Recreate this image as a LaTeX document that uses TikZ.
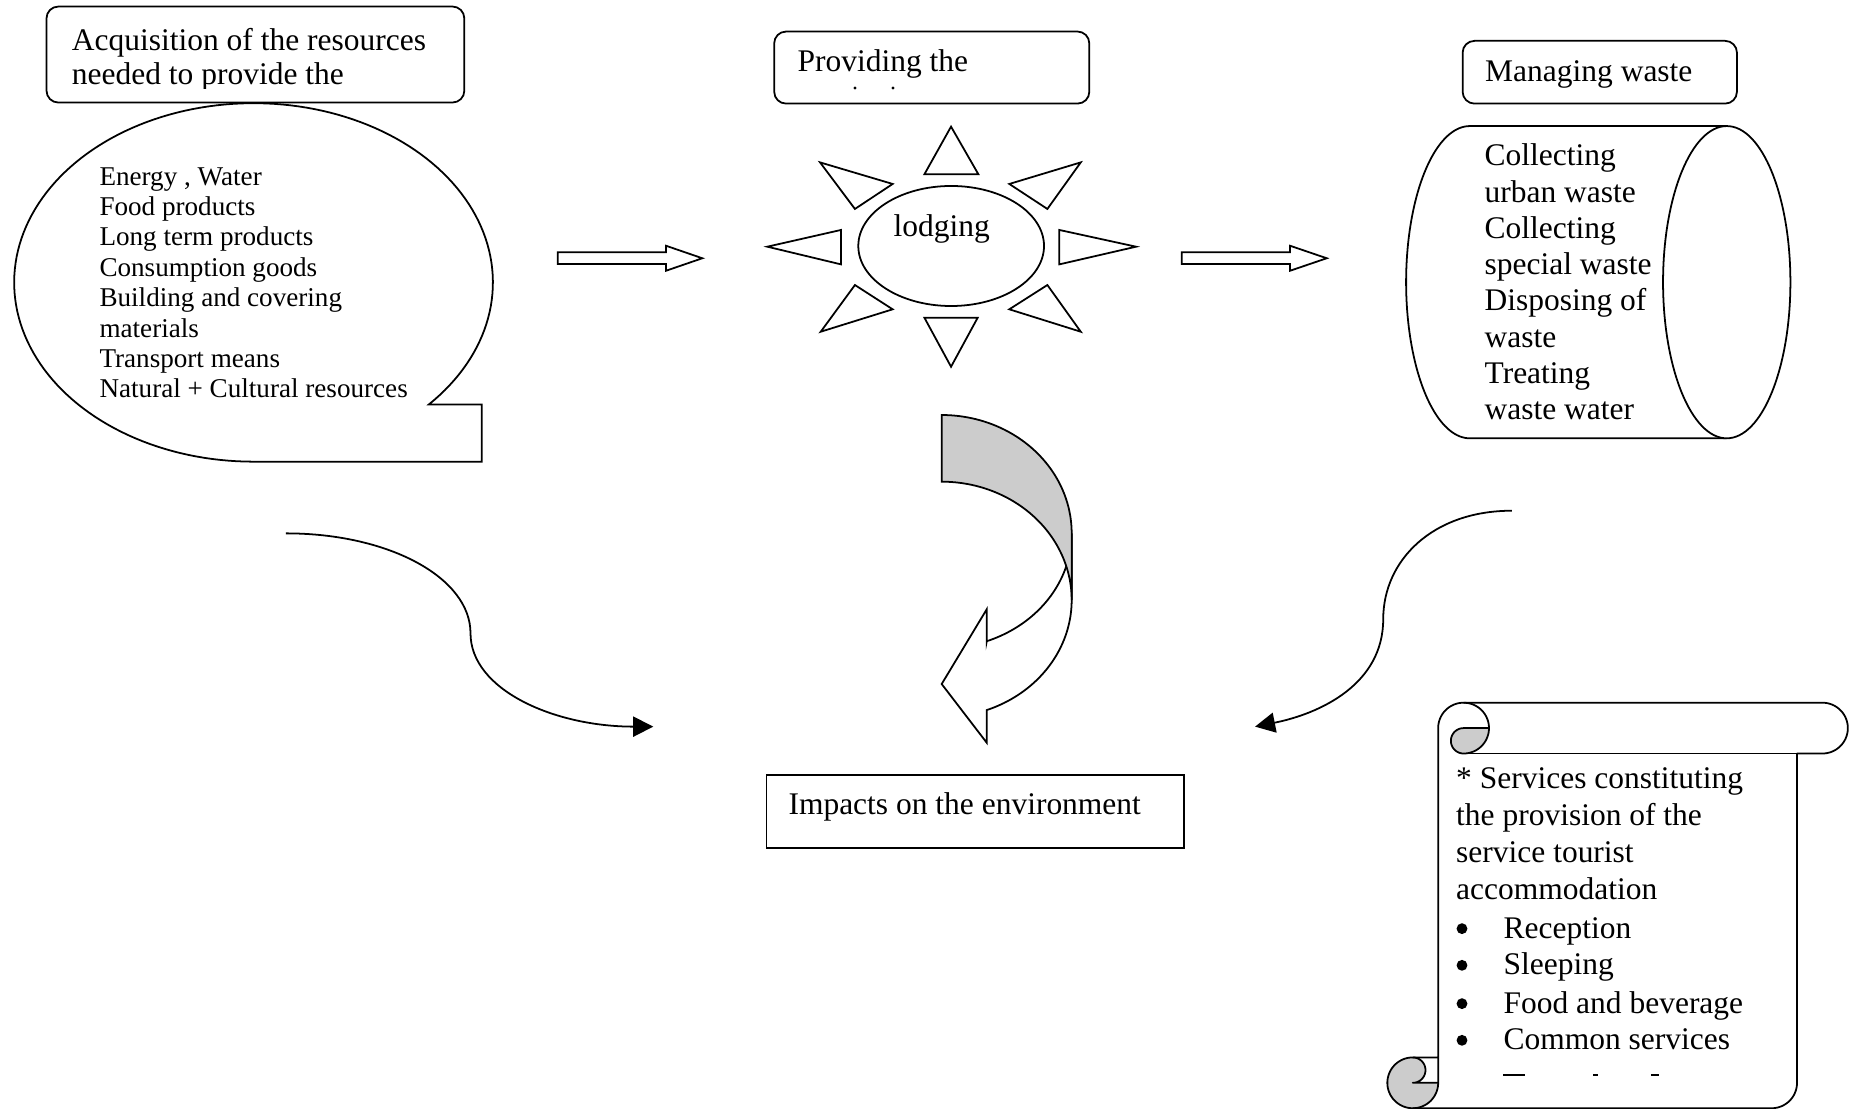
\documentclass[tikz,border=0pt]{standalone}
\usepackage{fontspec}
\setmainfont{Liberation Serif}
\usetikzlibrary{shapes.geometric,arrows.meta}
\definecolor{curlgray}{RGB}{204,204,204}
\begin{document}
\begin{tikzpicture}[x=1pt,y=-1pt,
  ln/.style={line width=1.5pt},
  hdrbox/.style={draw, ln, rounded corners=10pt, fill=white, anchor=north west, inner sep=0pt},
  plainbox/.style={draw, ln, fill=white, anchor=north west, inner sep=0pt},
  bigtxt/.style={font=\fontsize{26.7pt}{30pt}\selectfont, inner sep=0pt, anchor=base west},
  smalltxt/.style={font=\fontsize{23pt}{26pt}\selectfont, inner sep=0pt, anchor=base west},
  bulletdot/.style={circle, fill=black, inner sep=0pt, minimum size=9.2pt},
  ray/.style={draw, ln, fill=white, line join=miter},
  blockarrow/.style={draw, ln, fill=white, line join=miter},
  flow/.style={ln, -{Triangle[length=17pt,width=17pt]}},
]
\useasboundingbox (0,0) rectangle (1568,940);
\fill[white] (0,0) rectangle (1568,940);

% ---------------- left column ----------------
\node[hdrbox, minimum width=354.3pt, minimum height=81.4pt] (acqbox) at (38.7,4.8) {};
\begin{scope}
  \clip (38.7,4.8) rectangle (393,75);
  \node[bigtxt] (acq1) at (60.8,42.4) {Acquisition of the resources};
  \node[bigtxt] (acq2) at (60.8,72) {needed to provide the};
\end{scope}

\draw[ln, fill=white, line join=miter] plot[domain=90:402.9, samples=160] ({215+203*cos(\x)},{239.5+152*sin(\x)})
   -- (408.5,343) -- (408.5,391.5) -- cycle;
\foreach \t [count=\i] in {{Energy , Water},{Food products},{Long term products},{Consumption goods},{Building and covering},{materials},{Transport means},{Natural + Cultural resources}}
  \node[smalltxt] (res\i) at (84.2,{156.9+(\i-1)*25.8}) {\t};

% ---------------- middle column ----------------
\node[hdrbox, minimum width=267.2pt, minimum height=61.1pt] (provbox) at (655.8,26) {};
\node[bigtxt] (prov) at (676.2,60.8) {Providing the};
\fill (725,74.6) circle[radius=1.4pt];
\fill (757.3,74.6) circle[radius=1.4pt];

\node[draw, ln, ellipse, minimum width=157.5pt, minimum height=101.8pt, inner sep=0pt] (lodge) at (806.6,208.6) {};
\node[bigtxt] (lodgetxt) at (757.6,200.5) {lodging};

\draw[ray] (806.5,107.4) -- (783.9,147.8) -- (829.7,147.8) -- cycle;
\draw[ray] (806.5,311) -- (783.9,269.4) -- (829.1,269.4) -- cycle;
\draw[ray] (650.7,209.2) -- (713.2,195) -- (713.2,224.2) -- cycle;
\draw[ray] (963.4,209.2) -- (898.3,195) -- (898.3,224.2) -- cycle;
\draw[ray] (695.4,137.7) -- (757,156) -- (725,177.2) -- cycle;
\draw[ray] (916.5,137.7) -- (855.9,156) -- (888.2,177.2) -- cycle;
\draw[ray] (725,241.7) -- (757,262.3) -- (696,281.3) -- cycle;
\draw[ray] (888.2,241.7) -- (855.9,262.3) -- (916.5,281.3) -- cycle;

% block arrows
\draw[blockarrow] (473,214) -- (564.8,214) -- (564.8,208.4) -- (595.6,219) -- (564.8,229.6) -- (564.8,223.9) -- (473,223.9) -- cycle;
\draw[blockarrow] (1002.1,214) -- (1094,214) -- (1094,208.4) -- (1125.1,219) -- (1094,229.6) -- (1094,223.9) -- (1002.1,223.9) -- cycle;

% curved block arrow
\begin{scope}[shift={(746.27,339.21)}, scale=0.28268]
  \draw[ln, fill=white, line join=miter] plot[domain=0:69.7, samples=60] ({185+390*cos(\x)},{600+352*sin(\x)})
     -- (320,1028) -- (185,852) -- (320,628) -- (320,725)
     -- plot[domain=69.7:0, samples=60] ({185+390*cos(\x)},{400+345*sin(\x)}) -- cycle;
  \draw[ln, fill=curlgray, line join=miter] plot[domain=270:360, samples=60] ({185+390*cos(\x)},{400+355*sin(\x)})
     -- (575,600)
     -- plot[domain=360:270, samples=60] ({185+390*cos(\x)},{600+355*sin(\x)}) -- cycle;
\end{scope}

\node[plainbox, minimum width=354.2pt, minimum height=62.1pt] (imp) at (649.3,656.4) {};
\node[bigtxt] (imptxt) at (668.5,691.1) {Impacts on the environment};

% ---------------- right column ----------------
\node[hdrbox, minimum width=232.6pt, minimum height=53.2pt] (mgwbox) at (1239.6,33.9) {};
\node[bigtxt] (mgw) at (1259.3,69.3) {Managing waste};

\fill[white] (1464.3,106.9) -- (1246.4,106.9)
   -- plot[domain=270:90, samples=80] ({1246.4+54*cos(\x)},{239.3+132.4*sin(\x)}) -- (1464.3,371.7) -- cycle;
\draw[ln] (1464.3,106.9) -- (1246.4,106.9)
   -- plot[domain=270:90, samples=80] ({1246.4+54*cos(\x)},{239.3+132.4*sin(\x)}) -- (1464.3,371.7);
\node[draw, ln, ellipse, minimum width=108pt, minimum height=264.8pt, inner sep=0pt, fill=white] (cylend) at (1464.3,239.3) {};
\foreach \t [count=\i] in {Collecting,urban waste,Collecting,special waste,Disposing of,waste,Treating,waste water}
  \node[bigtxt] (wst\i) at (1258.8,{140.5+(\i-1)*30.8}) {\t};

% scroll
\fill[white] (1219.6,896.7) -- (1219.6,617.45)
   -- plot[domain=180:270, samples=30] ({1241.15+21.55*cos(\x)},{617.45+21.55*sin(\x)})
   -- (1545.45,595.9)
   -- plot[domain=270:450, samples=40] ({1545.45+21.55*cos(\x)},{617.45+21.55*sin(\x)})
   -- (1523.9,639) -- (1523.9,918.25)
   -- plot[domain=0:90, samples=30] ({1502.35+21.55*cos(\x)},{918.25+21.55*sin(\x)})
   -- (1198.05,939.8)
   -- plot[domain=90:270, samples=40] ({1198.05+21.55*cos(\x)},{918.25+21.55*sin(\x)}) -- cycle;
\fill[curlgray] (1262.7,617.45)
   -- plot[domain=0:90, samples=30] ({1241.15+21.55*cos(\x)},{617.45+21.55*sin(\x)})
   -- plot[domain=90:270, samples=30] ({1241.15+10.78*cos(\x)},{628.22+10.78*sin(\x)}) -- cycle;
\fill[curlgray] (1219.6,918.25)
   -- plot[domain=0:270, samples=60] ({1198.05+21.55*cos(\x)},{918.25+21.55*sin(\x)})
   -- plot[domain=270:450, samples=30] ({1198.05+10.78*cos(\x)},{907.48+10.78*sin(\x)}) -- cycle;
\draw[ln, line join=round] (1219.6,896.7) -- (1219.6,617.45)
   -- plot[domain=180:270, samples=30] ({1241.15+21.55*cos(\x)},{617.45+21.55*sin(\x)})
   -- (1545.45,595.9)
   -- plot[domain=270:450, samples=40] ({1545.45+21.55*cos(\x)},{617.45+21.55*sin(\x)})
   -- (1523.9,639) -- (1523.9,918.25)
   -- plot[domain=0:90, samples=30] ({1502.35+21.55*cos(\x)},{918.25+21.55*sin(\x)})
   -- (1198.05,939.8)
   -- plot[domain=90:270, samples=40] ({1198.05+21.55*cos(\x)},{918.25+21.55*sin(\x)}) -- cycle;
\draw[ln, line join=round] plot[domain=270:450, samples=40] ({1241.15+21.55*cos(\x)},{617.45+21.55*sin(\x)})
   -- plot[domain=90:270, samples=30] ({1241.15+10.78*cos(\x)},{628.22+10.78*sin(\x)}) -- (1262.7,617.45);
\draw[ln] (1523.9,639) -- (1241.15,639);
\draw[ln, line join=round] plot[domain=270:450, samples=30] ({1198.05+10.78*cos(\x)},{907.48+10.78*sin(\x)}) -- (1219.6,918.25);
\draw[ln, line join=round] plot[domain=90:0, samples=30] ({1198.05+21.55*cos(\x)},{918.25+21.55*sin(\x)}) -- (1219.6,896.7);

\node[bigtxt] (srv1) at (1234.7,668.5) {* Services constituting};
\node[bigtxt] (srv2) at (1234.7,700.2) {the provision of the};
\node[bigtxt] (srv3) at (1234.7,731.6) {service tourist};
\node[bigtxt] (srv4) at (1234.7,762.7) {accommodation};
\foreach \t/\yy [count=\i] in {Reception/795.7,Sleeping/826.8,Food and beverage/859.3,Common services/890.4}{
  \node[bulletdot] (bul\i) at (1239.8,\yy-8.2) {};
  \node[bigtxt] (itm\i) at (1274.9,\yy) {\t};
}
\draw[line width=1.3pt] (1274.9,911.8) -- (1293.5,911.8);
\draw[line width=1.3pt] (1351,911.8) -- (1355,911.8);
\draw[line width=1.3pt] (1400,911.8) -- (1407,911.8);

% ---------------- connectors ----------------
\coordinate (ls) at (242.5,452.3);
\coordinate (le) at (554,616.2);
\draw[flow] (ls) .. controls (330,452.3) and (399,490) .. (399,537) .. controls (399,585) and (470,616.2) .. (le);
\coordinate (rs) at (1282,433.1);
\coordinate (re) at (1064.3,616.2);
\draw[flow] (rs) .. controls (1215,433.1) and (1173,475) .. (1173,525) .. controls (1173,580) and (1120,605) .. (re);
\end{tikzpicture}
\end{document}
